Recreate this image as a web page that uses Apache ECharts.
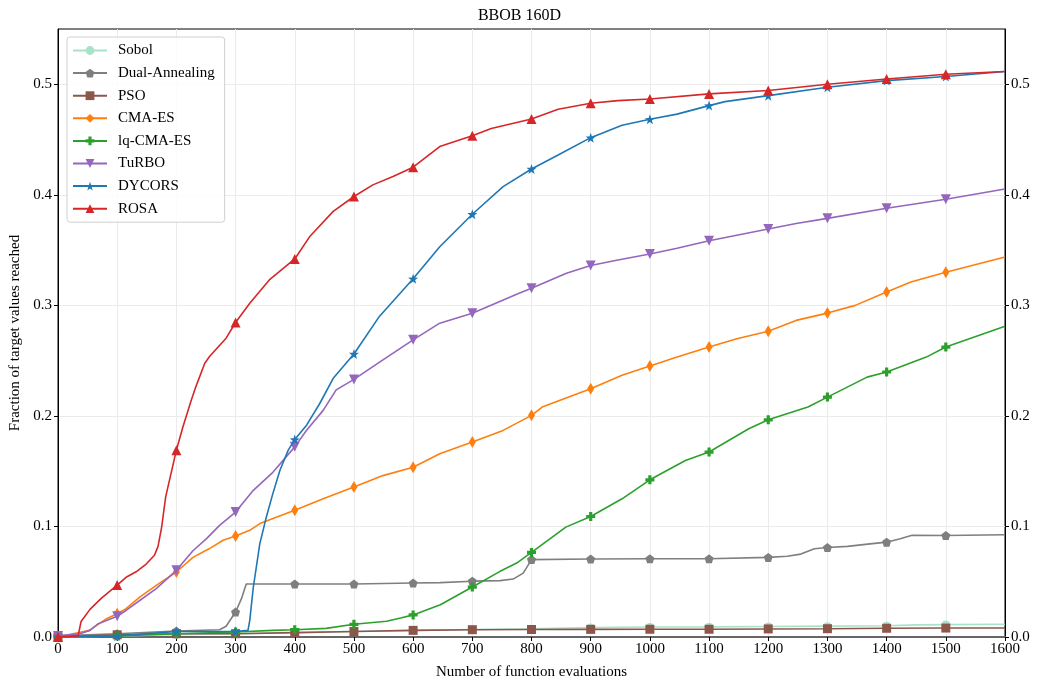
<!DOCTYPE html>
<html><head><meta charset="utf-8">
<script src="https://cdn.jsdelivr.net/npm/echarts@6/dist/echarts.min.js"></script>
<style>html,body{margin:0;padding:0;background:#fff}#c{width:1039px;height:683px}</style>
</head><body><div id="c"></div>
<script>
const seriesNames = ['Sobol','Dual-Annealing','PSO','CMA-ES','lq-CMA-ES','TuRBO','DYCORS','ROSA'];
const xTicks = [0,100,200,300,400,500,600,700,800,900,1000,1100,1200,1300,1400,1500,1600];
const yTicks = [0,0.1,0.2,0.3,0.4,0.5];

const sobol = [[0,0],[100,0.001],[200,0.002],[300,0.003],[400,0.004],[500,0.005],[600,0.006],[700,0.0068],[800,0.0075],[900,0.0085],[1000,0.009],[1100,0.0092],[1200,0.0095],[1300,0.0098],[1400,0.0102],[1450,0.011],[1500,0.0112],[1600,0.0115]];
const dualAnnealing = [[0,0.001],[100,0.003],[200,0.0054],[273,0.0066],[284,0.0097],[300,0.0226],[310,0.0347],[318,0.048],[400,0.048],[500,0.048],[600,0.0488],[646,0.0492],[700,0.0505],[747,0.051],[769,0.0524],[786,0.0578],[800,0.070],[900,0.0705],[1000,0.0708],[1100,0.0708],[1200,0.072],[1232,0.073],[1255,0.075],[1278,0.0798],[1300,0.081],[1334,0.082],[1368,0.084],[1400,0.0858],[1423,0.0889],[1443,0.092],[1500,0.0918],[1600,0.0925]];
const pso = [[0,0],[100,0.002],[200,0.003],[300,0.003],[400,0.004],[500,0.005],[600,0.006],[700,0.0066],[800,0.0068],[900,0.0069],[1000,0.007],[1100,0.007],[1200,0.0073],[1300,0.0075],[1400,0.0079],[1500,0.0081],[1600,0.0081]];
const cmaes = [[0,0],[53,0.006],[82,0.0166],[100,0.021],[115,0.0256],[138,0.036],[166,0.0467],[200,0.0588],[228,0.072],[256,0.080],[279,0.0875],[300,0.0914],[324,0.0965],[341,0.1026],[400,0.1146],[448,0.125],[500,0.1357],[549,0.146],[600,0.1535],[645,0.1658],[700,0.1763],[752,0.1869],[800,0.2005],[818,0.208],[900,0.2246],[953,0.2367],[1000,0.2451],[1046,0.2532],[1100,0.2623],[1147,0.2698],[1200,0.2765],[1247,0.2864],[1300,0.293],[1347,0.300],[1400,0.312],[1441,0.3211],[1500,0.330],[1600,0.3437]];
const lqcmaes = [[0,0],[100,0.001],[200,0.003],[300,0.0045],[363,0.006],[400,0.0066],[453,0.0078],[500,0.0115],[555,0.0142],[579,0.0172],[600,0.0200],[646,0.0292],[700,0.0452],[747,0.0594],[775,0.0669],[800,0.0765],[858,0.0994],[900,0.109],[953,0.125],[1000,0.1422],[1060,0.1597],[1100,0.1673],[1167,0.1884],[1200,0.1965],[1267,0.208],[1300,0.217],[1367,0.2351],[1400,0.2397],[1467,0.2532],[1500,0.2623],[1600,0.281]];
const turbo = [[0,0.001],[37,0.003],[54,0.006],[68,0.012],[82,0.015],[100,0.0187],[115,0.024],[138,0.033],[166,0.0437],[200,0.0603],[228,0.078],[251,0.089],[273,0.101],[300,0.113],[330,0.1327],[363,0.149],[400,0.172],[420,0.187],[448,0.205],[470,0.2235],[500,0.233],[549,0.2507],[600,0.2688],[645,0.2839],[700,0.2928],[779,0.311],[800,0.3154],[859,0.329],[900,0.336],[946,0.341],[1000,0.3465],[1046,0.3516],[1100,0.3585],[1200,0.369],[1247,0.374],[1300,0.3787],[1400,0.3878],[1500,0.396],[1600,0.4053]];
const dycors = [[0,0],[100,0.001],[200,0.005],[300,0.005],[321,0.006],[324,0.015],[330,0.045],[341,0.0845],[352,0.1086],[363,0.1297],[375,0.1508],[389,0.169],[400,0.1786],[420,0.1916],[442,0.211],[465,0.234],[500,0.256],[543,0.290],[600,0.324],[645,0.353],[700,0.3824],[752,0.4074],[800,0.4234],[845,0.436],[900,0.4517],[953,0.463],[1000,0.4683],[1046,0.473],[1100,0.4807],[1127,0.4843],[1200,0.4897],[1300,0.4973],[1400,0.5033],[1500,0.507],[1600,0.5115]];
const rosa = [[0,0],[34,0.001],[39,0.014],[54,0.025],[73,0.035],[100,0.047],[115,0.054],[132,0.059],[149,0.066],[163,0.074],[169,0.082],[175,0.099],[182,0.127],[200,0.169],[211,0.190],[225,0.214],[233,0.2265],[248,0.2477],[256,0.2537],[284,0.2703],[300,0.2845],[324,0.302],[357,0.323],[400,0.342],[425,0.362],[465,0.385],[500,0.3985],[532,0.409],[566,0.4166],[600,0.425],[645,0.4437],[700,0.4535],[732,0.460],[800,0.4686],[845,0.4774],[900,0.4828],[946,0.4852],[1000,0.4867],[1100,0.4913],[1200,0.4943],[1300,0.500],[1400,0.5048],[1500,0.509],[1600,0.5115]];

const seriesData = [sobol, dualAnnealing, pso, cmaes, lqcmaes, turbo, dycors, rosa];
const colors = ['#a8e2c8','#7f7f7f','#8c564b','#ff7f0e','#2ca02c','#9467bd','#1f77b4','#d62728'];
const PENT = 'path://M0,-10 L9.51,-3.09 L5.88,8.09 L-5.88,8.09 L-9.51,-3.09 Z';
const STAR = 'path://M0,-10 L2.35,-3.24 L9.51,-3.09 L3.8,1.24 L5.88,8.09 L0,4 L-5.88,8.09 L-3.8,1.24 L-9.51,-3.09 L-2.35,-3.24 Z';
const PLUS = 'path://M-3.2,-9 L3.2,-9 L3.2,-3.2 L9,-3.2 L9,3.2 L3.2,3.2 L3.2,9 L-3.2,9 L-3.2,3.2 L-9,3.2 L-9,-3.2 L-3.2,-3.2 Z';
const TRIDOWN = 'path://M-9,-7 L9,-7 L0,8 Z';
const TRIUP = 'path://M-9,7 L9,7 L0,-8 Z';
const symbols = ['circle', PENT, 'rect', 'diamond', PLUS, TRIDOWN, STAR, TRIUP];
const sizes = [8, 9, 9, [7,12], 9, 10, 10, 10];

const FONT = 'Liberation Serif';

function build(arr) {
  return arr.map(p => (p[0] % 100 === 0 && p[0] <= 1500) ? {value: p} : {value: p, symbol: 'none'});
}

const series = seriesNames.map((n, i) => ({
  name: n, type: 'line', data: build(seriesData[i]),
  symbol: symbols[i], symbolSize: sizes[i], showAllSymbol: true,
  lineStyle: {color: colors[i], width: 1.6},
  itemStyle: {color: colors[i]},
  z: 2 + i, animation: false, silent: true
}));

const chart = echarts.init(document.getElementById('c'), null, {renderer: 'canvas'});
const axisLabelY = {
  fontFamily: FONT, fontSize: 15, color: '#000',
  customValues: yTicks, formatter: v => v.toFixed(1)
};
chart.setOption({
  animation: false,
  backgroundColor: '#fff',
  title: {text: 'BBOB 160D', left: 'center', top: 3,
    textStyle: {fontFamily: FONT, fontSize: 16, fontWeight: 'normal', color: '#000'}},
  grid: {left: 58, right: 34, top: 29, bottom: 46, show: true, borderColor: '#000', borderWidth: 1,
    containLabel: false, outerBoundsMode: 'none'},
  legend: {
    orient: 'vertical', left: 67, top: 37, padding: [6, 10, 6, 5],
    itemWidth: 34, itemHeight: 11, itemGap: 7.6,
    backgroundColor: 'rgba(255,255,255,0.85)', borderColor: '#d0d0d0', borderWidth: 1, borderRadius: 3,
    textStyle: {fontFamily: FONT, fontSize: 15, color: '#000', lineHeight: 15, padding: [0,0,0,6]},
    data: seriesNames
  },
  xAxis: {
    type: 'value', min: 0, max: 1600, interval: 100,
    name: 'Number of function evaluations', nameLocation: 'middle', nameGap: 28,
    nameTextStyle: {fontFamily: FONT, fontSize: 15, color: '#000'},
    axisLine: {show: true, lineStyle: {color: '#666', width: 2}},
    axisTick: {show: true, length: 4, lineStyle: {color: '#000'}},
    axisLabel: {fontFamily: FONT, fontSize: 15, color: '#000', margin: 5, formatter: v => String(v)},
    splitLine: {show: true, lineStyle: {color: '#ebebeb', width: 1}}
  },
  yAxis: [{
    type: 'value', min: 0, max: 0.55, position: 'left',
    name: 'Fraction of target values reached', nameLocation: 'middle', nameGap: 33, nameRotate: 90,
    nameTextStyle: {fontFamily: FONT, fontSize: 15, color: '#000'},
    axisLine: {show: true, lineStyle: {color: '#000'}},
    axisTick: {show: true, length: 4, customValues: yTicks, lineStyle: {color: '#000'}},
    axisLabel: Object.assign({margin: 6}, axisLabelY),
    splitLine: {show: true, lineStyle: {color: '#ebebeb', width: 1}}
  }, {
    type: 'value', min: 0, max: 0.55, position: 'right',
    axisLine: {show: true, lineStyle: {color: '#000'}},
    axisTick: {show: true, length: 4, customValues: yTicks, lineStyle: {color: '#000'}},
    axisLabel: Object.assign({margin: 6}, axisLabelY),
    splitLine: {show: false}
  }],
  series: series
});
</script></body></html>
